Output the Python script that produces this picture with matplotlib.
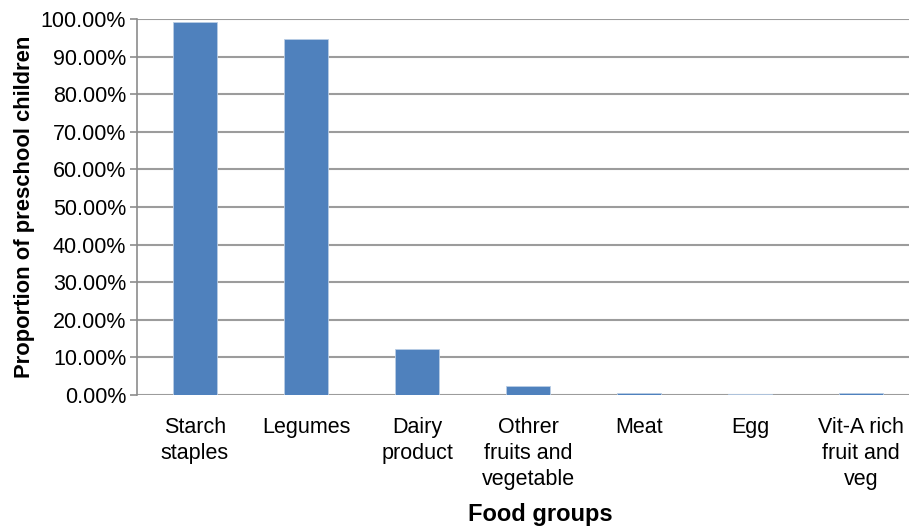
import matplotlib
matplotlib.use("Agg")
import matplotlib.pyplot as plt
from matplotlib.ticker import PercentFormatter

categories = ["Starch\nstaples", "Legumes", "Dairy\nproduct", "Othrer\nfruits and\nvegetable",
              "Meat", "Egg", "Vit-A rich\nfruit and\nveg"]
proportions = [99.2, 94.8, 12.3, 2.4, 0.5, 0.3, 0.5]
yticks = [0, 10, 20, 30, 40, 50, 60, 70, 80, 90, 100]

plt.rcParams["font.family"] = ["Liberation Sans", "DejaVu Sans"]

fig = plt.figure(figsize=(9.09, 5.28), dpi=100)
# plot area runs off the right edge, as in the original
ax = fig.add_axes([0.151, 0.252, 0.855, 0.712])

x = range(len(categories))
ax.bar(x, proportions, width=0.4, color="#4F81BD", edgecolor="#B9CDE5", linewidth=0.6, zorder=3)

ax.set_ylim(0, 100)
ax.set_xlim(-0.52, len(categories) - 0.52)
ax.set_yticks(yticks)
ax.yaxis.set_major_formatter(PercentFormatter(decimals=2))
ax.set_xticks(list(x))
ax.set_xticklabels(categories, fontsize=15.5, linespacing=1.32)
ax.tick_params(axis="x", length=0, pad=16)
ax.tick_params(axis="y", labelsize=15.5, length=5, color="#8c8c8c", width=1.2, pad=3)

ax.grid(axis="y", color="#9c9c9c", linewidth=1.5, zorder=0)
for side in ("top", "right", "bottom"):
    ax.spines[side].set_visible(False)
ax.spines["left"].set_color("#8c8c8c")
ax.spines["left"].set_linewidth(1.2)

ax.set_xlabel("Food groups", fontsize=17, fontweight="bold")
ax.xaxis.set_label_coords(540 / 909, 14 / 528, transform=fig.transFigure)
ax.xaxis.label.set_verticalalignment("center")
ax.set_ylabel("Proportion of preschool children", fontsize=15.8, fontweight="bold", labelpad=4)

fig.savefig("out.png", dpi=100)
